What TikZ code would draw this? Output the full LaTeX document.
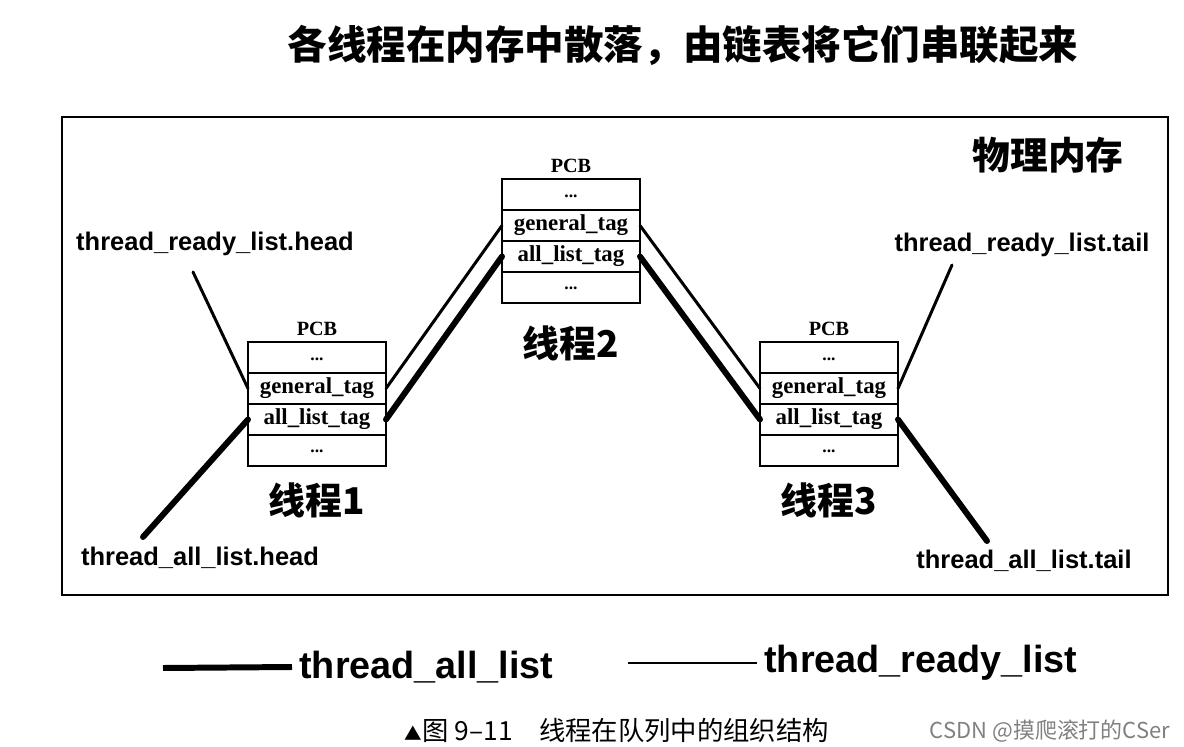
\documentclass[tikz,border=0pt]{standalone}
\usepackage{fontspec}
\setmainfont{Liberation Serif}
\setsansfont{Liberation Sans}
\newfontfamily\cjk{Noto Sans CJK SC}
\usetikzlibrary{positioning}

\begin{document}
\begin{tikzpicture}[x=0.02cm,y=-0.02cm,
  pcbrow/.style={draw,line width=0.8pt,minimum width=2.76cm,minimum height=0.62cm,
    inner sep=0pt,outer sep=0pt,font=\fontsize{13}{15}\selectfont\bfseries},
  dotrow/.style={pcbrow,font=\fontsize{10}{12}\selectfont\bfseries},
  pcbtitle/.style={font=\fontsize{11.5}{13}\selectfont\bfseries},
  thname/.style={font=\cjk\bfseries\fontsize{21}{24}\selectfont},
  lbl/.style={font=\sffamily\bfseries\fontsize{14.5}{17}\selectfont},
  legend/.style={font=\sffamily\bfseries\fontsize{21.5}{24}\selectfont,anchor=west,inner sep=4pt},
  readyline/.style={line width=1.7pt,line cap=round},
  allline/.style={line width=3.4pt,line cap=round}]
\useasboundingbox (0,0) rectangle (1184,747);
\node[font=\cjk\bfseries\fontsize{22.5}{26}\selectfont] (title) at (683,45) {各线程在内存中散落，由链表将它们串联起来};
\draw[line width=0.8pt] (62,117) rectangle (1168,595);
\node[font=\cjk\bfseries\fontsize{21.5}{24}\selectfont] (mem) at (1048,155) {物理内存};

\foreach \i/\x/\y/\ly in {1/317/357.5/500,2/571/194.5/343,3/829/357.5/500}{
  \node[dotrow] (top\i) at (\x,\y) {\raisebox{-3pt}{...}};
  \node[pcbrow,below=0pt of top\i] (gen\i) {general\_tag};
  \node[pcbrow,below=0pt of gen\i] (all\i) {all\_list\_tag};
  \node[dotrow,below=0pt of all\i] (bot\i) {\raisebox{-3pt}{...}};
  \node[pcbtitle,above=0pt of top\i] (pcb\i) {PCB};
  \node[thname] (th\i) at (\x,\ly) {线程\i};
}

\node[lbl] (rhlabel) at (215,244) {thread\_ready\_list.head};
\node[lbl] (ahlabel) at (200,558) {thread\_all\_list.head};
\node[lbl] (rtlabel) at (1022,245) {thread\_ready\_list.tail};
\node[lbl] (atlabel) at (1024,561) {thread\_all\_list.tail};
\coordinate (rhend) at (193,272);
\coordinate (ahend) at (143,537);
\coordinate (rtend) at (952,265);
\coordinate (atend) at (987,541);

\draw[readyline] (rhend) -- (gen1.west);
\draw[allline] (ahend) -- (all1.west);
\draw[readyline] (gen1.east) -- (gen2.west);
\draw[allline] (all1.east) -- (all2.west);
\draw[readyline] (gen2.east) -- (gen3.west);
\draw[allline] (all2.east) -- (all3.west);
\draw[readyline] (rtend) -- (gen3.east);
\draw[allline] (atend) -- (all3.east);

\coordinate (lgall) at (163,668);
\node[legend] (lgalltext) at (292,667) {thread\_all\_list};
\draw[allline,line cap=butt] (lgall) -- (lgalltext.west);
\coordinate (lgready) at (628,663);
\node[legend] (lgreadytext) at (757,663) {thread\_ready\_list};
\draw[readyline,line cap=butt] (lgready) -- (lgreadytext.west);

\node[font=\cjk\fontsize{15}{17}\selectfont,inner sep=1pt] (caption) at (617,730) {{\fontsize{10}{10}\selectfont ▲}图 9–11\quad 线程在队列中的组织结构};
\node[font=\cjk\fontsize{12.5}{14}\selectfont,text=gray,inner sep=1pt] (mark) at (1050,731) {CSDN @摸爬滚打的CSer};
\end{tikzpicture}
\end{document}
